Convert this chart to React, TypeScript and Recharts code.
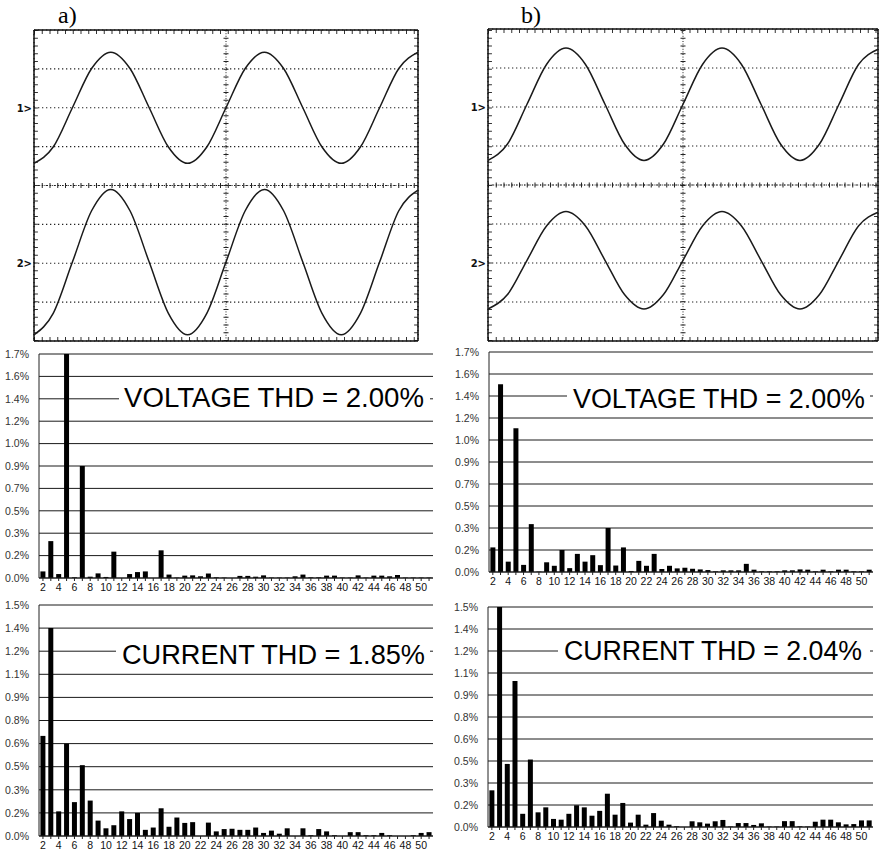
import React from "react";
import {
  LineChart,
  Line,
  BarChart,
  Bar,
  XAxis,
  YAxis,
  CartesianGrid,
  ReferenceLine,
} from "recharts";

// oscilloscope traces, sampled every half division (values in divisions)
const divisions = [0, 0.5, 1, 1.5, 2, 2.5, 3, 3.5, 4, 4.5, 5, 5.5, 6, 6.5, 7, 7.5, 8, 8.5, 9, 9.5, 10];
const scopeA1 = [0.57, 0.99, 2.0, 3.01, 3.43, 3.01, 2.0, 0.99, 0.57, 0.99, 2.0, 3.01, 3.43, 3.01, 2.0, 0.99, 0.57, 0.99, 2.0, 3.01, 3.43];
const scopeA2 = [-3.84, -3.29, -1.97, -0.65, -0.1, -0.65, -1.97, -3.29, -3.84, -3.29, -1.97, -0.65, -0.1, -0.65, -1.97, -3.29, -3.84, -3.29, -1.97, -0.65, -0.12];
const scopeB1 = [0.63, 1.05, 2.07, 3.09, 3.51, 3.09, 2.07, 1.05, 0.63, 1.05, 2.07, 3.09, 3.51, 3.09, 2.07, 1.05, 0.63, 1.05, 2.07, 3.09, 3.48];
const scopeB2 = [-3.18, -2.81, -1.93, -1.05, -0.68, -1.05, -1.93, -2.81, -3.18, -2.81, -1.93, -1.05, -0.68, -1.05, -1.93, -2.81, -3.18, -2.81, -1.93, -1.05, -0.7];
const scopeTicksX = [0, 1, 2, 3, 4, 5, 6, 7, 8, 9, 10];
const scopeTicksY = [-4, -3, -2, -1, 0, 1, 2, 3, 4];
const channelTicks = [2, -2];
const channelLabels = ["1>", "2>"];

// harmonic spectra (% of fundamental), harmonics 2..51
const harmonics = [
  2, 3, 4, 5, 6, 7, 8, 9, 10, 11, 12, 13, 14, 15, 16, 17, 18, 19, 20, 21, 22, 23, 24, 25, 26,
  27, 28, 29, 30, 31, 32, 33, 34, 35, 36, 37, 38, 39, 40, 41, 42, 43, 44, 45, 46, 47, 48, 49, 50, 51,
];
const voltageA = [
  0.05, 0.28, 0.03, 1.7, 0.005, 0.85, 0.01, 0.035, 0.008, 0.2,
  0.0, 0.03, 0.045, 0.05, 0.0, 0.21, 0.026, 0.003, 0.018, 0.02,
  0.013, 0.034, 0.005, 0.003, 0.0, 0.016, 0.016, 0.01, 0.02, 0.003,
  0.003, 0.003, 0.013, 0.026, 0.005, 0.005, 0.018, 0.018, 0.003, 0.003,
  0.02, 0.003, 0.018, 0.018, 0.013, 0.023, 0.003, 0.003, 0.003, 0.003,
];
const currentA = [
  0.65, 1.35, 0.16, 0.6, 0.22, 0.46, 0.23, 0.1, 0.05, 0.07,
  0.16, 0.11, 0.15, 0.04, 0.055, 0.18, 0.06, 0.12, 0.085, 0.09,
  0.0, 0.087, 0.03, 0.045, 0.047, 0.04, 0.04, 0.055, 0.02, 0.035,
  0.015, 0.05, 0.0, 0.05, 0.005, 0.045, 0.03, 0.005, 0.0, 0.025,
  0.025, 0.005, 0.005, 0.02, 0.005, 0.0, 0.0, 0.005, 0.02, 0.025,
];
const voltageB = [
  0.19, 1.45, 0.08, 1.11, 0.055, 0.37, 0.003, 0.075, 0.048, 0.17,
  0.03, 0.14, 0.08, 0.13, 0.053, 0.34, 0.05, 0.19, 0.008, 0.086,
  0.048, 0.14, 0.023, 0.048, 0.028, 0.033, 0.025, 0.02, 0.015, 0.005,
  0.013, 0.013, 0.013, 0.063, 0.018, 0.005, 0.005, 0.005, 0.013, 0.013,
  0.02, 0.018, 0.005, 0.018, 0.005, 0.018, 0.018, 0.005, 0.005, 0.018,
];
const currentB = [
  0.25, 1.5, 0.43, 0.995, 0.09, 0.46, 0.1, 0.134, 0.055, 0.05,
  0.09, 0.148, 0.134, 0.077, 0.11, 0.227, 0.084, 0.164, 0.03, 0.084,
  0.016, 0.095, 0.043, 0.016, 0.005, 0.0, 0.039, 0.032, 0.023, 0.039,
  0.048, 0.003, 0.027, 0.027, 0.014, 0.025, 0.003, 0.003, 0.04, 0.04,
  0.005, 0.003, 0.036, 0.05, 0.05, 0.032, 0.018, 0.02, 0.045, 0.045,
];

const voltageTicks = [0, 0.17, 0.34, 0.51, 0.68, 0.85, 1.02, 1.19, 1.36, 1.53, 1.7];
const voltageTickLabels = ["0.0%", "0.2%", "0.3%", "0.5%", "0.7%", "0.9%", "1.0%", "1.2%", "1.4%", "1.6%", "1.7%"];
const currentTicks = [0, 0.15, 0.3, 0.45, 0.6, 0.75, 0.9, 1.05, 1.2, 1.35, 1.5];
const currentTickLabels = ["0.0%", "0.2%", "0.3%", "0.5%", "0.6%", "0.8%", "0.9%", "1.1%", "1.2%", "1.4%", "1.5%"];

const SANS = "'Liberation Sans', Arial, sans-serif";

function ChannelTick(props: any) {
  const { x, y, payload } = props;
  const i = channelTicks.indexOf(payload.value);
  if (i < 0) return <g />;
  return (
    <text x={x} y={y} dy={4} textAnchor="end" fontSize={10} fontWeight="bold" fontFamily="'DejaVu Sans', sans-serif" fill="#111">
      {channelLabels[i]}
    </text>
  );
}

function Scope({ left, plotLeft, plotTop, plotW, plotH, ch1, ch2 }: any) {
  const data = divisions.map((t, i) => ({ t, c1: ch1[i], c2: ch2[i] }));
  const axisW = plotLeft - left;
  return (
    <div style={{ position: "absolute", left, top: 0 }}>
      <LineChart
        width={axisW + plotW + 1}
        height={plotTop + plotH + 2}
        data={data}
        margin={{ top: plotTop, right: 1, left: 0, bottom: 0 }}
      >
        <CartesianGrid stroke="#222" strokeWidth={1.2} strokeDasharray="1.3 2.7" />
        <XAxis type="number" dataKey="t" domain={[0, 10]} ticks={scopeTicksX} tick={false} tickLine={false} axisLine={false} height={1} />
        <YAxis
          type="number"
          domain={[-4, 4]}
          ticks={scopeTicksY}
          interval={0}
          width={axisW}
          tickSize={0}
          tickMargin={2}
          axisLine={false}
          tick={<ChannelTick />}
        />
        {/* centre axes with minor ticks */}
        <ReferenceLine x={5} stroke="#222" strokeDasharray="1 1.6" />
        <ReferenceLine x={5} stroke="#222" strokeWidth={5} strokeDasharray="1 6.75" />
        <ReferenceLine y={0} stroke="#222" strokeDasharray="1 1.6" />
        <ReferenceLine y={0} stroke="#222" strokeWidth={5} strokeDasharray="1 6.75" />
        {/* minor ticks inside the frame */}
        <ReferenceLine x={0.05} stroke="#333" strokeWidth={4} strokeDasharray="1 6.75" />
        <ReferenceLine x={9.95} stroke="#333" strokeWidth={4} strokeDasharray="1 6.75" />
        <ReferenceLine y={3.95} stroke="#333" strokeWidth={4} strokeDasharray="1 6.75" />
        <ReferenceLine y={-3.95} stroke="#333" strokeWidth={4} strokeDasharray="1 6.75" />
        {/* frame */}
        <ReferenceLine x={0} stroke="#111" strokeWidth={1.5} />
        <ReferenceLine x={10} stroke="#111" strokeWidth={1.5} />
        <ReferenceLine y={4} stroke="#111" strokeWidth={1.5} />
        <ReferenceLine y={-4} stroke="#111" strokeWidth={1.5} />
        <Line type="monotone" dataKey="c1" stroke="#1a1a1a" strokeWidth={1.5} dot={false} isAnimationActive={false} />
        <Line type="monotone" dataKey="c2" stroke="#1a1a1a" strokeWidth={1.5} dot={false} isAnimationActive={false} />
      </LineChart>
    </div>
  );
}

function HarmonicChart({ plotLeft, plotTop, plotW, plotH, values, ticks, labels }: any) {
  const data = harmonics.map((n, i) => ({ n, v: values[i] }));
  const axisW = 40;
  const mt = 12;
  return (
    <div style={{ position: "absolute", left: plotLeft - axisW, top: plotTop - mt }}>
      <BarChart
        width={axisW + plotW + 8}
        height={mt + plotH + 24}
        data={data}
        margin={{ top: mt, right: 8, left: 0, bottom: 0 }}
        barCategoryGap="18%"
      >
        <CartesianGrid vertical={false} stroke="#1a1a1a" />
        <XAxis
          dataKey="n"
          interval={0}
          height={24}
          stroke="#222"
          tickSize={3}
          tickMargin={3}
          tick={{ fontSize: 10.5, fill: "#111", fontFamily: "'Liberation Sans Narrow', 'Liberation Sans', Arial, sans-serif" }}
          tickFormatter={(v: number) => (v % 2 === 0 && v <= 50 ? String(v) : "")}
        />
        <YAxis
          width={axisW}
          domain={[0, ticks[ticks.length - 1]]}
          ticks={ticks}
          interval={0}
          stroke="#222"
          tickLine={false}
          tickMargin={4}
          tick={{ fontSize: 10.5, fill: "#333", fontFamily: SANS }}
          tickFormatter={(v: number) => labels[ticks.indexOf(v)]}
        />
        <YAxis yAxisId="frame" orientation="right" width={0} domain={[0, 1]} tick={false} tickLine={false} stroke="#222" />
        <Bar dataKey="v" fill="#000" isAnimationActive={false} />
      </BarChart>
    </div>
  );
}

const titleStyle = { fontFamily: SANS, fontSize: 27, fill: "#000" };

export default function App() {
  return (
    <div style={{ position: "absolute", left: 0, top: 0, width: 879, height: 852, background: "#fff" }}>
      <Scope left={0} plotLeft={34} plotTop={30} plotW={384} plotH={310} ch1={scopeA1} ch2={scopeA2} />
      <Scope left={440} plotLeft={488} plotTop={29} plotW={390} plotH={311} ch1={scopeB1} ch2={scopeB2} />

      <HarmonicChart plotLeft={39} plotTop={354} plotW={394} plotH={224} values={voltageA} ticks={voltageTicks} labels={voltageTickLabels} />
      <HarmonicChart plotLeft={39} plotTop={605} plotW={394} plotH={231} values={currentA} ticks={currentTicks} labels={currentTickLabels} />
      <HarmonicChart plotLeft={489} plotTop={352} plotW={384} plotH={220} values={voltageB} ticks={voltageTicks} labels={voltageTickLabels} />
      <HarmonicChart plotLeft={488} plotTop={607} plotW={385} plotH={220} values={currentB} ticks={currentTicks} labels={currentTickLabels} />

      <svg width={879} height={852} style={{ position: "absolute", left: 0, top: 0, pointerEvents: "none" }}>
        <text x={58} y={23} fontFamily="'Liberation Serif', 'Times New Roman', serif" fontSize={24} fill="#000">a)</text>
        <text x={521} y={23} fontFamily="'Liberation Serif', 'Times New Roman', serif" fontSize={24} fill="#000">b)</text>

        <rect x={119} y={381} width={311} height={33} fill="#fff" />
        <text x={124} y={407} {...titleStyle} textLength={300} lengthAdjust="spacingAndGlyphs">VOLTAGE THD = 2.00%</text>

        <rect x={116} y={638} width={314} height={32} fill="#fff" />
        <text x={122} y={664} {...titleStyle} textLength={303} lengthAdjust="spacingAndGlyphs">CURRENT THD = 1.85%</text>

        <rect x={567} y={381} width={303} height={32} fill="#fff" />
        <text x={573} y={408} {...titleStyle} textLength={292} lengthAdjust="spacingAndGlyphs">VOLTAGE THD = 2.00%</text>

        <rect x={558} y={636} width={312} height={31} fill="#fff" />
        <text x={564} y={660} {...titleStyle} textLength={298} lengthAdjust="spacingAndGlyphs">CURRENT THD = 2.04%</text>
      </svg>
    </div>
  );
}
